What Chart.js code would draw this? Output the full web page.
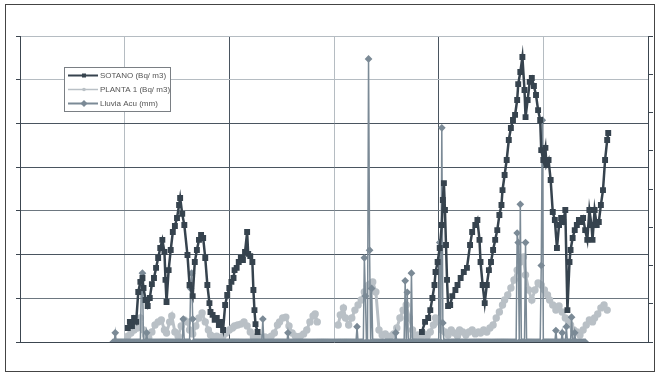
<!DOCTYPE html>
<html>
<head>
<meta charset="utf-8">
<script src="https://cdn.jsdelivr.net/npm/chart.js@4.4.1/dist/chart.umd.min.js"></script>
<style>
  html, body { margin: 0; padding: 0; background: #fff; }
  #wrap { position: relative; width: 657px; height: 377px; }
  #frame { position: absolute; left: 5px; top: 4px; width: 648px; height: 366px; border: 1.5px solid #444; pointer-events: none; }
  canvas { position: absolute; left: 0; top: 0; }
</style>
</head>
<body>
<div id="wrap">
  <canvas id="radon" width="657" height="377"></canvas>
  <div id="frame"></div>
</div>
<script>
// SOTANO (Bq/m3)
var sotanoDay = [103,105,107,109,111,113,115,117,118,120,122,124,126,128,130,132,134,136,138,139,
  140,142,144,146,148,150,152,153,155,157,160,162,165,167,169,171,173,175,177,179,
  181,182,184,186,188,190,192,194,196,198,200,202,204,205,207,209,211,213,215,217,
  218,220,222,223,224,225,227,300,
  384,387,390,392,394,396,397,399,401,403,404,405,406,407,408,409,411,413,416,418,
  421,424,427,430,432,435,437,439,440,442,444,446,448,450,452,454,456,458,460,461,
  463,465,467,469,471,473,475,476,478,480,482,483,485,487,489,491,493,495,497,498,
  500,502,503,505,507,509,511,513,515,517,519,521,523,525,526,528,530,532,534,536,
  538,540,542,544,546,547,549,551,553,555,557,559,561,562];
var sotanoBq = [64,92,73,110,92,229,275,293,247,192,165,201,265,293,339,384,430,467,412,284,
  183,329,421,503,531,567,627,659,586,535,398,261,210,366,421,467,490,476,384,261,
  178,137,124,101,110,78,92,55,169,215,247,275,293,329,339,366,384,375,412,503,
  403,393,366,238,146,82,46,null,
  46,92,110,146,201,261,320,366,430,535,650,727,604,444,284,165,169,210,238,261,
  293,320,339,444,503,535,558,467,366,261,178,261,329,366,421,467,512,581,627,695,
  764,833,924,979,1016,1039,1107,1180,1235,1304,1153,1029,1107,1190,1208,1171,1130,1061,1016,878,
  833,888,810,833,741,595,558,430,535,567,549,604,146,366,421,476,512,535,558,549,
  567,512,467,604,535,467,604,535,549,627,695,833,924,956];

// PLANTA 1 (Bq/m3)
var plantaDay = [103,106,109,112,115,118,120,123,126,129,132,135,138,140,143,145,148,151,154,157,
  160,162,165,168,171,174,177,180,182,185,188,191,194,197,200,203,205,208,211,214,
  217,220,223,225,228,231,234,237,240,243,246,248,251,254,257,260,263,266,268,271,
  274,277,280,282,284,293,
  304,306,309,311,314,317,320,323,326,329,332,334,337,340,343,346,349,352,354,357,
  360,363,366,369,372,375,377,380,383,386,389,392,395,397,400,403,406,409,412,415,
  418,420,423,426,429,432,435,438,440,443,446,449,452,455,458,461,463,466,469,472,
  475,478,481,483,486,489,492,495,498,501,504,506,509,512,515,518,521,524,526,529,
  532,535,538,541,544,547,549,552,555,558,561];
var plantaBq = [27,41,55,64,110,55,32,18,46,78,92,101,55,41,92,119,46,27,73,101,
  92,55,37,73,110,133,92,55,32,23,27,18,27,41,55,64,73,78,82,92,
  73,46,23,18,23,18,23,18,27,41,78,92,110,114,73,41,27,23,27,37,
  55,92,119,128,92,null,
  78,124,156,110,78,110,146,169,192,229,256,265,275,229,55,32,37,23,27,37,
  64,110,146,169,110,55,27,32,23,37,27,46,78,110,92,55,46,32,55,41,
  27,55,46,32,46,55,37,46,41,55,46,64,78,110,137,169,192,215,247,284,
  329,366,389,307,238,192,238,270,261,238,215,192,169,146,165,137,110,92,78,55,
  46,32,55,78,101,92,110,128,156,169,146];

// Lluvia Acu (mm): daily record, zero except on these days
var lluviaStart = 89, lluviaEnd = 540;
var lluviaDay = [91,116,117,121,156,163,164,165,232,256,322,329,330,333,334,336,359,368,370,374,
  401,403,404,475,476,478,483,498,499,512,518,522,527,530];
var lluviaMm = [2.4,16,18,2.4,6,14,18,6,6,2.4,4,22,12,74,24,14,2.4,16,13,18,
  26,56,5,28.5,26,36,26,20,58,3,2.4,4,6.5,2.4];

var labels = ['SOTANO (Bq/ m3)', 'PLANTA 1 (Bq/ m3)', 'Lluvia Acu (mm)'];

function pairs(xs, ys) {
  var out = [];
  for (var i = 0; i < xs.length; i++) out.push({x: xs[i], y: ys[i]});
  return out;
}

var lluvia = [];
for (var d = lluviaStart; d <= lluviaEnd; d++) {
  var k = lluviaDay.indexOf(d);
  lluvia.push({x: d, y: k >= 0 ? lluviaMm[k] : 0});
}

// grid shades, bottom to top / left to right
var yShade = ['#3c4650', '#6d7780', '#4a5560', '#6d7780', '#4a5560', '#4a5560', '#b5bcc2', '#b5bcc2'];
var xShade = ['#3c4650', '#b5bcc2', '#4a5560', '#b5bcc2', '#4a5560', '#b5bcc2', '#3c4650'];

var legendBox = {
  id: 'legendBox',
  afterDraw: function(chart) {
    var ctx = chart.ctx;
    ctx.save();
    ctx.fillStyle = '#fff';
    ctx.strokeStyle = '#7a7f84';
    ctx.lineWidth = 1;
    ctx.fillRect(64.5, 67.5, 106, 44);
    ctx.strokeRect(64.5, 67.5, 106, 44);
    ctx.font = '8px "Liberation Sans", Arial, sans-serif';
    ctx.textBaseline = 'middle';
    [0, 1, 2].forEach(function(i, row) {
      var ds = chart.data.datasets[i];
      var y = 75.5 + row * 14;
      ctx.strokeStyle = ds.borderColor;
      ctx.lineWidth = i === 1 ? 1.5 : 2;
      ctx.beginPath(); ctx.moveTo(68, y); ctx.lineTo(98, y); ctx.stroke();
      ctx.fillStyle = ds.pointBackgroundColor;
      if (i === 0) ctx.fillRect(82, y - 2, 4, 4);
      else if (i === 1) { ctx.beginPath(); ctx.arc(84, y, 1.8, 0, Math.PI * 2); ctx.fill(); }
      else { ctx.beginPath(); ctx.moveTo(84, y - 3.5); ctx.lineTo(87.5, y); ctx.lineTo(84, y + 3.5); ctx.lineTo(80.5, y); ctx.closePath(); ctx.fill(); }
      ctx.fillStyle = '#555';
      ctx.fillText(ds.label, 100, y);
    });
    ctx.restore();
  }
};

new Chart(document.getElementById('radon'), {
  type: 'line',
  data: {
    datasets: [
      {
        label: labels[0],
        data: pairs(sotanoDay, sotanoBq),
        yAxisID: 'y',
        borderColor: '#36434e',
        pointBackgroundColor: '#36434e',
        pointBorderColor: '#36434e',
        pointStyle: 'rect',
        pointRadius: 2.4,
        borderWidth: 2.5,
        order: 0
      },
      {
        label: labels[1],
        data: pairs(plantaDay, plantaBq),
        yAxisID: 'y',
        borderColor: '#b9c0c6',
        pointBackgroundColor: '#b9c0c6',
        pointBorderColor: '#b9c0c6',
        pointStyle: 'circle',
        pointRadius: 2.2,
        borderWidth: 3,
        order: 2
      },
      {
        label: labels[2],
        data: lluvia,
        yAxisID: 'y1',
        borderColor: '#7b8a96',
        pointBackgroundColor: '#7b8a96',
        pointBorderColor: '#7b8a96',
        pointStyle: 'rectRot',
        pointRadius: 2.8,
        borderWidth: 1.5,
        order: 1
      }
    ]
  },
  options: {
    responsive: false,
    animation: false,
    devicePixelRatio: 1,
    spanGaps: false,
    layout: { padding: { top: 36, left: 0, right: 0, bottom: 0 } },
    plugins: { legend: { display: false }, tooltip: { enabled: false } },
    scales: {
      x: {
        type: 'linear', min: 0, max: 600,
        ticks: { display: false, stepSize: 100 },
        grid: {
          color: function(c) { return xShade[c.index] || '#b5bcc2'; },
          drawTicks: false, lineWidth: 1
        },
        border: { display: false },
        afterFit: function(s) { s.height = 35; }
      },
      y: {
        position: 'left', min: 0, max: 1400,
        ticks: { display: false, stepSize: 200 },
        grid: {
          color: function(c) { return yShade[c.index] || '#b5bcc2'; },
          tickLength: 4, tickColor: '#3c4650'
        },
        border: { display: true, color: '#3c4650', width: 1 },
        afterFit: function(s) { s.width = 20; }
      },
      y1: {
        position: 'right', min: 0, max: 80,
        ticks: { display: false, stepSize: 10 },
        grid: { drawOnChartArea: false, tickLength: 5, tickColor: '#3c4650' },
        border: { display: true, color: '#3c4650', width: 1 },
        afterFit: function(s) { s.width = 9; }
      }
    }
  },
  plugins: [legendBox]
});
</script>
</body>
</html>
